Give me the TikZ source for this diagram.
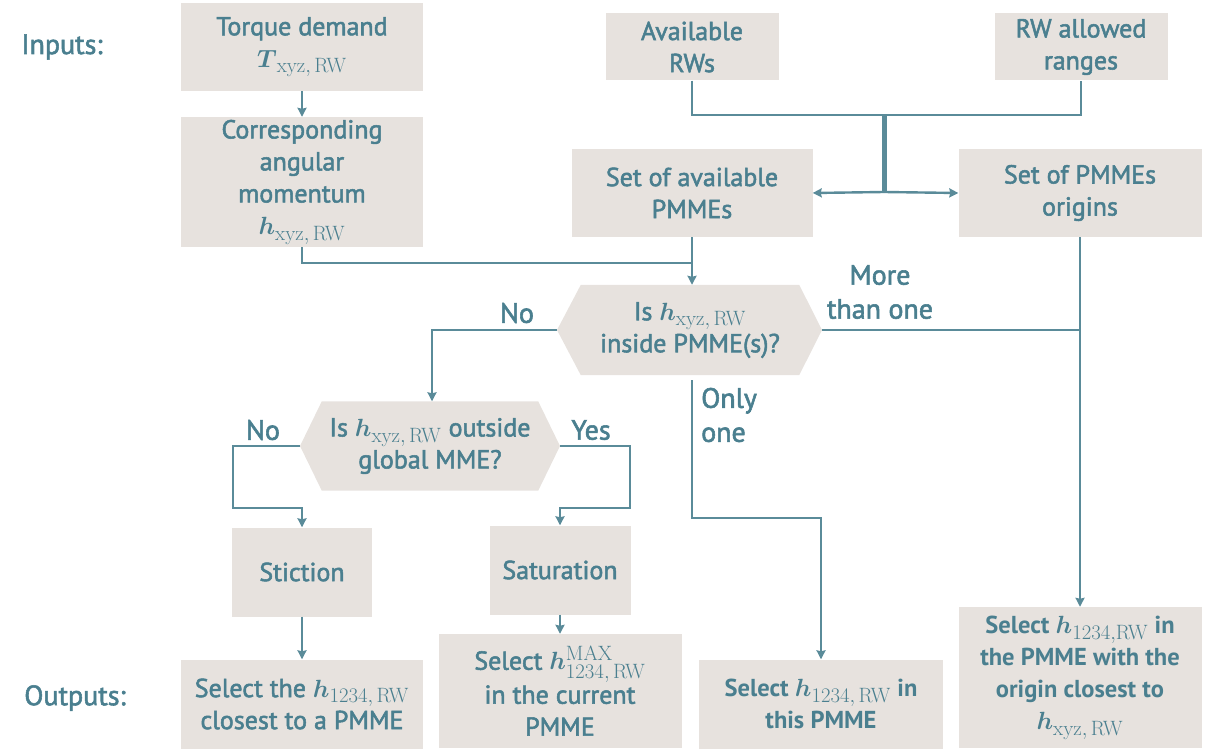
\documentclass[tikz,border=0pt]{standalone}
\usepackage{amsmath}
\usepackage[no-math]{fontspec}
\setmainfont{PT Sans}
\newfontfamily\semib{PT Sans}[FakeBold=2]
\DeclareMathSizes{26}{26}{22}{17}
\DeclareMathSizes{24.5}{24.5}{21}{16}
\usetikzlibrary{arrows.meta,backgrounds}
\definecolor{ink}{HTML}{4A7F8F}
\definecolor{wirecol}{HTML}{5A8B99}
\definecolor{paper}{HTML}{E7E2DE}
\newcommand{\hvec}[1]{\boldsymbol{h}_{\mathrm{#1}}}

\begin{document}
\begin{tikzpicture}[x=1pt,y=-1pt,
  box/.style={fill=paper,text=ink,align=center,inner sep=0pt,
    font=\semib\fontsize{26}{32}\selectfont},
  strongbox/.style={box,font=\bfseries\fontsize{24.5}{32}\selectfont},
  decision/.style={text=ink,align=center,inner sep=0pt,
    font=\semib\fontsize{26}{32}\selectfont},
  lbl/.style={text=ink,inner sep=0pt,font=\semib\fontsize{28}{34}\selectfont},
  wire/.style={draw=wirecol,line width=2.4pt},
  arr/.style={wire,-{Stealth[length=9pt,width=9pt,inset=1pt]}}]

\useasboundingbox (0,0) rectangle (1206,751);

% side captions
\node[lbl] (inputs) at (62,47) {Inputs:};
\node[lbl] (outputs) at (75,698) {Outputs:};

% input boxes
\node[box,minimum width=242,minimum height=88] (torque) at (302,47)
  {Torque demand\\$\boldsymbol{T}_{\mathrm{xyz,\,RW}}$};
\node[box,minimum width=242,minimum height=130] (angmom) at (302,182)
  {Corresponding\\angular\\momentum\\$\hvec{xyz,\,RW}$};
\node[box,minimum width=173,minimum height=67] (rws) at (692,47)
  {Available\\RWs};
\node[box,minimum width=173,minimum height=67] (ranges) at (1081,47)
  {RW allowed\\ranges};
\node[box,minimum width=241,minimum height=88] (pmmes) at (692,193)
  {Set of available\\PMMEs};
\node[box,minimum width=243,minimum height=88] (origins) at (1080,193)
  {Set of PMMEs\\origins};

% decisions (hexagons drawn behind the text nodes)
\node[decision,minimum width=218,minimum height=90] (q1) at (690,330)
  {Is $\hvec{xyz,\,RW}$\\inside PMME(s)?};
\coordinate (q1w) at (557,330);
\coordinate (q1e) at (822,330);
\node[decision,minimum width=216,minimum height=89] (q2) at (430,446)
  {Is $\hvec{xyz,\,RW}$ outside\\global MME?};
\coordinate (q2w) at (300,446);
\coordinate (q2e) at (560,446);
\begin{scope}[on background layer]
  \fill[paper] (q1.north west) -- (q1.north east) -- (q1e) -- (q1.south east)
    -- (q1.south west) -- (q1w) -- cycle;
  \fill[paper] (q2.north west) -- (q2.north east) -- (q2e) -- (q2.south east)
    -- (q2.south west) -- (q2w) -- cycle;
\end{scope}

% intermediate boxes
\node[box,minimum width=140,minimum height=89] (stiction) at (302,572) {Stiction};
\node[box,minimum width=141,minimum height=89] (saturation) at (560,570) {Saturation};

% outputs
\node[box,minimum width=242,minimum height=89] (out1) at (302,704)
  {Select the $\boldsymbol{h}_{\mathrm{1234,\,RW}}$\\closest to a PMME};
\node[box,minimum width=243,minimum height=114] (out2) at (560,691)
  {Select $\boldsymbol{h}^{\mathrm{MAX}}_{\mathrm{1234,\,RW}}$\\[2pt]in the current\\PMME};
\node[strongbox,minimum width=244,minimum height=89] (out3) at (821,704)
  {Select $\boldsymbol{h}_{\mathrm{1234,\,RW}}$ in\\this PMME};
\node[strongbox,minimum width=243,minimum height=141] (out4) at (1080,677.5)
  {Select $\boldsymbol{h}_{\mathrm{1234,RW}}$ in\\the PMME with the\\origin closest to\\$\hvec{xyz,\,RW}$};

% branch labels
\node[lbl] (no1) at (517,313) {No};
\node[lbl,align=center] (more) at (880,292) {More\\than one};
\node[lbl,align=left,anchor=west] (only) at (701,415) {Only\\one};
\node[lbl] (no2) at (263,430) {No};
\node[lbl] (yes2) at (591,430) {Yes};

% input connectors
\draw[arr] (torque) -- (angmom);
\coordinate (merge) at (692,115);
\draw[wire] (rws.south) |- (merge) -| (ranges.south);
\coordinate (split) at (884,192);
\draw[draw=wirecol,line width=5pt] (884,115) -- (split);
\draw[arr] (split) -- (pmmes.east);
\draw[arr] (split) -- (origins.west);
\coordinate (join) at (692,263);
\draw[wire] (angmom.south) |- (join);
\draw[arr] (pmmes.south) -- (q1.north -| pmmes.south);

% first decision
\coordinate (q1s) at (692,380);
\draw[arr] (q1w) -| (q2.north -| 432,0);
\draw[wire] (q1e) -- (q1e -| origins.south);
\draw[arr] (origins.south) -- (out4.north);
\draw[arr] (q1s) -- (692,518) -| (out3.north);

% second decision
\draw[arr] (q2w) -- (233,446) |- (302,508) -- (stiction.north);
\draw[arr] (q2e) -- (630,446) |- (560,508) -- (saturation.north);
\draw[arr] (stiction) -- (out1);
\draw[arr] (saturation) -- (out2);
\end{tikzpicture}
\end{document}
